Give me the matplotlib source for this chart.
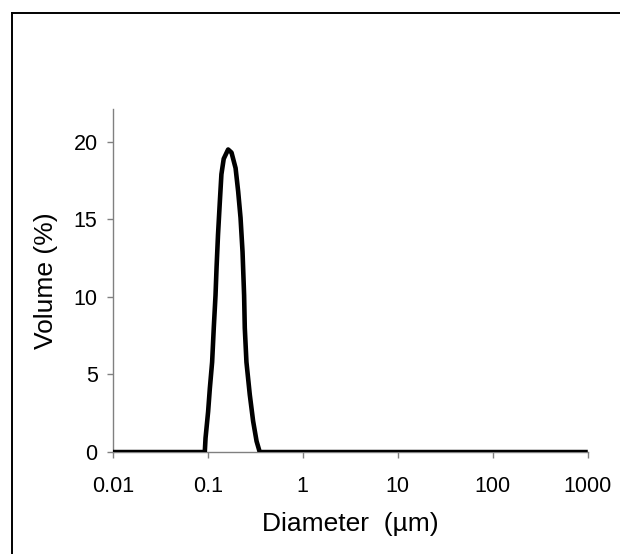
import matplotlib
matplotlib.use("Agg")
import matplotlib.pyplot as plt
from matplotlib.lines import Line2D

# particle size distribution
diameter_um = [0.01, 0.0929, 0.0946, 0.1007, 0.105, 0.111, 0.1155, 0.1205,
               0.1236, 0.128, 0.1337, 0.139, 0.147, 0.1636, 0.1776, 0.196,
               0.2086, 0.221, 0.232, 0.241, 0.245, 0.255, 0.2765, 0.2997,
               0.326, 0.352, 1000]
volume_pct = [0, 0, 0.9, 2.6, 4.1, 5.8, 8.0, 10.1,
              11.9, 14.0, 16.1, 17.9, 18.9, 19.5, 19.3, 18.3,
              16.8, 15.1, 12.9, 10.1, 8.0, 5.8, 3.7, 2.0,
              0.7, 0, 0]

x_ticks = [0.01, 0.1, 1, 10, 100, 1000]
x_tick_labels = ["0.01", "0.1", "1", "10", "100", "1000"]
y_ticks = [0, 5, 10, 15, 20]

plt.rcParams['font.family'] = ['Liberation Sans', 'DejaVu Sans']

fig = plt.figure(figsize=(6.2, 5.54), dpi=100)
ax = fig.add_axes([0.182, 0.184, 0.766, 0.619])

ax.plot(diameter_um, volume_pct, color='black', lw=3.3,
        solid_joinstyle='round', solid_capstyle='butt', zorder=3)

ax.set_xscale('log')
ax.set_xlim(0.01, 1000)
ax.set_ylim(0, 22.1)
ax.set_xticks(x_ticks)
ax.set_xticklabels(x_tick_labels)
ax.set_yticks(y_ticks)
ax.xaxis.set_minor_locator(matplotlib.ticker.NullLocator())

# excel-like axes: grey left/bottom lines, outward ticks
for side in ['top', 'right']:
    ax.spines[side].set_visible(False)
for side in ['left', 'bottom']:
    ax.spines[side].set_color('#808080')
    ax.spines[side].set_linewidth(1.0)
ax.tick_params(axis='both', direction='out', length=4, width=1.0,
               color='#808080', labelsize=15.5, labelcolor='black')
ax.tick_params(axis='x', pad=13)
ax.tick_params(axis='y', pad=7)

ax.set_xlabel("Diameter  (\u00b5m)", fontsize=19)
ax.set_ylabel("Volume (%)", fontsize=19)
ax.xaxis.label.set_va('center')
ax.yaxis.label.set_va('center')
ax.xaxis.set_label_coords(0.5, -0.21)
ax.yaxis.set_label_coords(-0.14, 0.5)

# outer frame of the scanned figure (top and left edge only visible)
fig.add_artist(Line2D([0.0194, 0.0194], [0.0, 0.9765], transform=fig.transFigure,
                      color='black', lw=1.4))
fig.add_artist(Line2D([0.0194, 1.0], [0.9765, 0.9765], transform=fig.transFigure,
                      color='black', lw=1.4))

fig.savefig("out.png", dpi=100)
